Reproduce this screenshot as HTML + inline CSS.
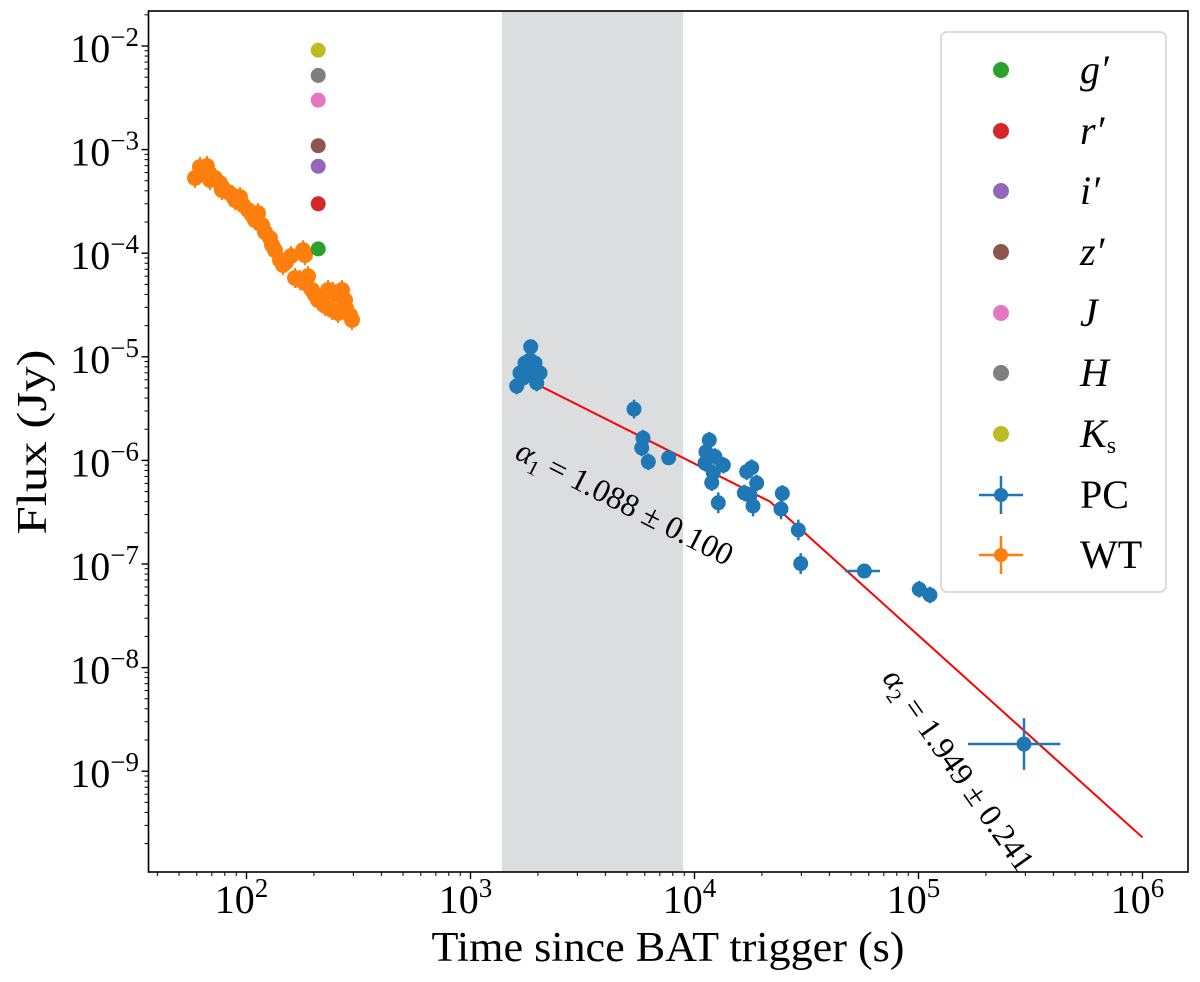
<!DOCTYPE html>
<html><head><meta charset="utf-8"><style>
body{margin:0;background:#fff}
svg{display:block;font-family:"Liberation Serif","DejaVu Serif",serif}
</style></head><body>
<svg id="chart" width="1200" height="982" viewBox="0 0 1200 982" xmlns="http://www.w3.org/2000/svg">
<rect width="1200" height="982" fill="#fff"/>
<g id="plot"></g>
<text x="668" y="961" font-size="42" text-anchor="middle" textLength="473" lengthAdjust="spacingAndGlyphs">Time since BAT trigger (s)</text>
<text transform="translate(46,442) rotate(-90)" font-size="42" text-anchor="middle" textLength="185" lengthAdjust="spacingAndGlyphs">Flux (Jy)</text>
<g id="legend"></g>
</svg>
<script>
// ---- data ----
const wtT = [58.9,62.0,66.6,65.3,68.7,72.4,76.1,77.7,82.7,86.2,88.9,93.5,96.5,101.6,105.8,112.5,109.1,117.3,120.9,127.3,130.0,134.0,141.1,145.5,150.1,158.0,178.8,182.4,164.7,173.4,182.4,188.2,196.1,202.3,208.6,217.3,231.1,243.3,256.2,266.9,275.3,240.9,256.2,278.0,289.7,295.8,224.0];
const wtF = [5.32e-4,6.8e-4,6.95e-4,5.69e-4,5.09e-4,5.32e-4,4.76e-4,4.07e-4,3.9e-4,3.65e-4,3.26e-4,3.49e-4,2.92e-4,2.61e-4,2.34e-4,2.44e-4,2.09e-4,1.87e-4,1.6e-4,1.4e-4,1.2e-4,1.07e-4,8.6e-5,7.7e-5,8.2e-5,9.4e-5,1.07e-4,9.6e-5,5.77e-5,5.5e-5,5.15e-5,6.0e-5,4.41e-5,3.95e-5,3.53e-5,3.78e-5,4.41e-5,4.22e-5,3.95e-5,4.41e-5,3.53e-5,2.83e-5,2.65e-5,2.96e-5,2.53e-5,2.27e-5,3.1e-5];
const pcT = [1608,1857,1663,1751,1843,1941,2043,1975,1806,1716,5370,5890,5813,6220,7670,11640,11250,12340,11140,13450,12130,11940,12770,18000,17100,18950,17700,16690,18250,24660,24320,29070,29790,57280,100800,112500,295800];
const pcF = [5.22e-6,1.25e-5,6.98e-6,8.7e-6,9.3e-6,8.7e-6,6.98e-6,5.59e-6,6.98e-6,6.24e-6,3.13e-6,1.64e-6,1.32e-6,9.7e-7,1.06e-6,1.57e-6,1.21e-6,1.09e-6,9.4e-7,9.0e-7,7.6e-7,6.1e-7,3.9e-7,8.5e-7,7.8e-7,6.05e-7,4.6e-7,4.85e-7,3.63e-7,4.8e-7,3.4e-7,2.13e-7,1.01e-7,8.55e-8,5.7e-8,5.02e-8,1.83e-9];
const pcTLo = [0,0,0,0,0,0,0,0,0,0,0,0,0,0,0,0,0,0,0,0,0,0,0,0,0,0,0,0,0,0,0,0,0,46970,0,0,166300];
const pcTHi = [0,0,0,0,0,0,0,0,0,0,0,0,0,0,0,0,0,0,0,0,0,0,0,0,0,0,0,0,0,0,0,0,0,67320,0,0,430000];
const pcErrDex = [0.08,0.07,0.08,0.08,0.08,0.08,0.08,0.08,0.08,0.08,0.09,0.08,0.08,0.08,0.07,0.08,0.08,0.08,0.08,0.08,0.08,0.08,0.1,0.08,0.08,0.08,0.08,0.08,0.1,0.08,0.1,0.1,0.1,0.07,0.08,0.08,0.25];
const optNames = ["g′","r′","i′","z′","J","H","Ks"];
const optColors = ["#2ca02c","#d62728","#9467bd","#8c564b","#e377c2","#7f7f7f","#bcbd22"];
const optT = [209,209,209,209,209,209,209];
const optF = [1.1e-4,3.0e-4,6.9e-4,1.09e-3,3.0e-3,5.2e-3,9.1e-3];
const fitTStart = 2080, fitFStart = 5.14e-6, fitTBreak = 21700, alpha1 = 1.088, alpha2 = 1.949, fitTEnd = 1e6;
const shadeT = [1380, 8900];
const xTickExp = [2,3,4,5,6];
const yTickExp = [-2,-3,-4,-5,-6,-7,-8,-9];

// ---- axes ----
const L=148.5,R=1188,T=11,B=872;
const X=t=>246.5+(Math.log10(t)-2)*224;
const Y=f=>46+(-2-Math.log10(f))*103.6;
const NS="http://www.w3.org/2000/svg";
function mk(tag,attrs,parent){const e=document.createElementNS(NS,tag);for(const k in attrs)e.setAttribute(k,attrs[k]);parent.appendChild(e);return e;}
const plot=document.getElementById('plot');
const svg=document.getElementById('chart');

let s=mk('rect',{x:X(shadeT[0]),y:T,width:X(shadeT[1])-X(shadeT[0]),height:B-T,fill:'#dcdddf'},plot);



for(let i=0;i<wtT.length;i++){
  const x=X(wtT[i]),y=Y(wtF[i]);
  let l=mk('line',{x1:x,x2:x,y1:y-10,y2:y+10,stroke:'#ff7f0e','stroke-width':2},plot);
  
  
  let c=mk('circle',{cx:x,cy:y,r:8,fill:'#ff7f0e'},plot);
  
  
}
for(let i=0;i<optT.length;i++){
  let c=mk('circle',{cx:X(optT[i]),cy:Y(optF[i]),r:7.5,fill:optColors[i]},plot);
  
  
}
const fB=fitFStart*Math.pow(fitTBreak/fitTStart,-alpha1);
const fE=fB*Math.pow(fitTEnd/fitTBreak,-alpha2);
let pl=mk('polyline',{points:`${X(fitTStart)},${Y(fitFStart)} ${X(fitTBreak)},${Y(fB)} ${X(fitTEnd)},${Y(fE)}`,fill:'none',stroke:'#ff0000','stroke-width':2},plot);


for(let i=0;i<pcT.length;i++){
  const x=X(pcT[i]),y=Y(pcF[i]);
  const e=pcErrDex[i];
  let l=mk('line',{x1:x,x2:x,y1:Y(pcF[i]*Math.pow(10,e)),y2:Y(pcF[i]/Math.pow(10,e)),stroke:'#1f77b4','stroke-width':2.5},plot);
  
  
  if(pcTLo[i]>0){
    let h=mk('line',{x1:X(pcTLo[i]),x2:X(pcTHi[i]),y1:y,y2:y,stroke:'#1f77b4','stroke-width':2.5},plot);
    
    
  }
  let c=mk('circle',{cx:x,cy:y,r:7.5,fill:'#1f77b4'},plot);
  
  
}
let a1=mk('text',{transform:'translate(620,512) rotate(27)','font-size':32,'text-anchor':'middle','font-style':'italic'},plot);


a1.innerHTML='α<tspan font-size="21" dy="7" font-style="normal">1</tspan><tspan dy="-7" font-style="normal"> = 1.088 ± 0.100</tspan>';
let a2=mk('text',{transform:'translate(950,776) rotate(55)','font-size':32,'text-anchor':'middle','font-style':'italic'},plot);


a2.innerHTML='α<tspan font-size="21" dy="7" font-style="normal">2</tspan><tspan dy="-7" font-style="normal"> = 1.949 ± 0.241</tspan>';

let fr=mk('rect',{x:L,y:T,width:R-L,height:B-T,fill:'none',stroke:'#000','stroke-width':1.6},svg);



for(let d=1;d<=6;d++){for(let m=1;m<10;m++){const t=m*Math.pow(10,d);const x=X(t);if(x<L||x>R)continue;
  let tk=mk('line',{x1:x,x2:x,y1:B,y2:B+(m==1?7:4),stroke:'#000','stroke-width':m==1?1.4:1},svg);
  
  }}
for(const e of xTickExp){const x=X(Math.pow(10,e));
  let tx=mk('text',{x:x-5,y:913,'font-size':40,'text-anchor':'middle'},svg);
  
  
  tx.innerHTML='10<tspan font-size="27" dy="-16">'+e+'</tspan>';}
for(let d=-10;d<=-2;d++){for(let m=1;m<10;m++){const f=m*Math.pow(10,d);const y=Y(f);if(y<T||y>B)continue;
  let tk=mk('line',{x1:L,x2:L-(m==1?7:4),y1:y,y2:y,stroke:'#000','stroke-width':m==1?1.4:1},svg);
  
  }}
for(const e of yTickExp){const y=Y(Math.pow(10,e));
  let tx=mk('text',{x:139,y:y+16,'font-size':40,'text-anchor':'end'},svg);
  
  
  tx.innerHTML='10<tspan font-size="27" dy="-16">−'+(-e)+'</tspan>';}

const lg=document.getElementById('legend');
let box=mk('rect',{x:941,y:32,width:225,height:560,rx:6,fill:'#fff','fill-opacity':0.85,stroke:'#d0d0d0','stroke-width':1.5},lg);


const rowY=[70,131,191,252,313,373,434,495,555];
const labels=["g′","r′","i′","z′","J","H","K<tspan font-size='24' font-style='normal' dy='6'>s</tspan>","PC","WT"];
for(let i=0;i<9;i++){
  const y=rowY[i];
  const g=mk('g',{},lg);
  
  
  if(i<7){mk('circle',{cx:1001,cy:y,r:8,fill:optColors[i]},g);}
  else{const col=i==7?'#1f77b4':'#ff7f0e';
    mk('line',{x1:979,x2:1023,y1:y,y2:y,stroke:col,'stroke-width':2.5},g);
    mk('line',{x1:1001,x2:1001,y1:y-19,y2:y+19,stroke:col,'stroke-width':2.5},g);
    mk('circle',{cx:1001,cy:y,r:7,fill:col},g);}
  const t=mk('text',{x:1080,y:y+13,'font-size':40,'font-style':i<7?'italic':'normal'},g);
  t.innerHTML=labels[i];
}
</script>
</body></html>
